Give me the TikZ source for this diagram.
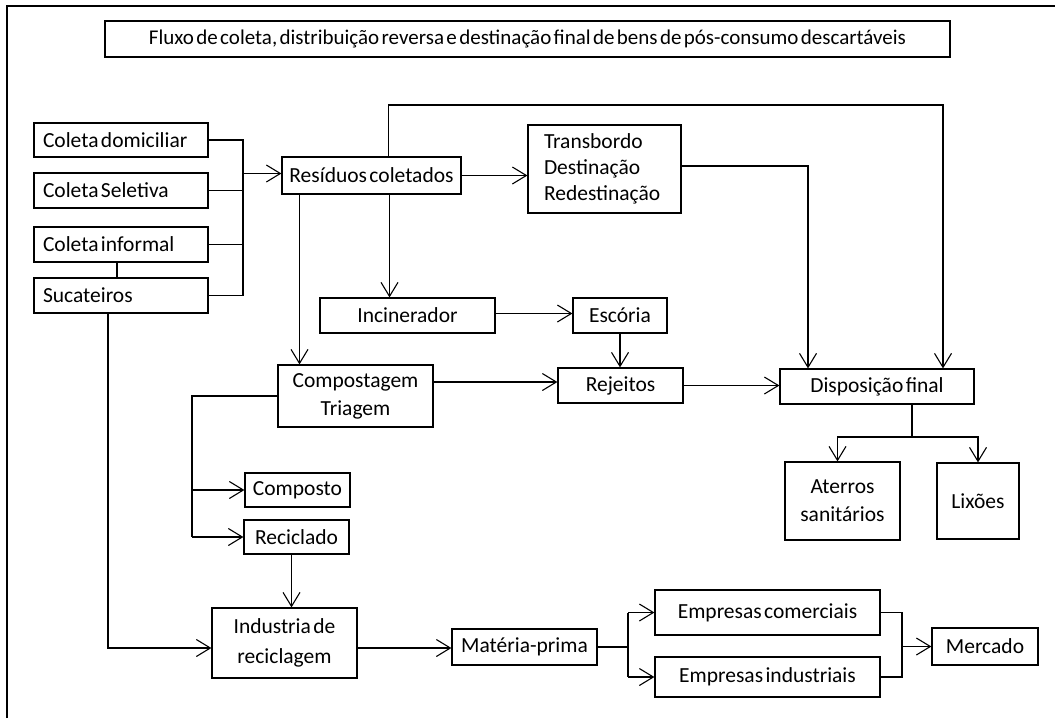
\documentclass[tikz,border=0pt]{standalone}
\usepackage{fontspec}
\setmainfont{Carlito}[WordSpace=0.5]
\usetikzlibrary{arrows.meta}
\tikzset{
  box/.style={draw,line width=1.2pt,inner sep=0pt,align=center,font=\fontsize{21.5}{28}\selectfont},
  lbox/.style={align=flush left,inner xsep=9pt},
  arr/.style={-{Straight Barb[length=14pt,width=17pt,line width=1.1pt]}},
  ln/.style={line width=1.2pt},
}
\newcommand\mybox[7][]{\node[box,minimum width={(#5-#3)*1pt},minimum height={(#6-#4)*1pt},#1] (#2) at ({(#3+#5)/2},{(#4+#6)/2}) {#7};}
\begin{document}
\begin{tikzpicture}[x=1pt,y=-1pt]
\useasboundingbox (0,0) rectangle (1055,718);
\draw[line width=1.6pt] (7,718) -- (7,6) -- (1055,6);
\mybox[font=\fontsize{21}{24}\selectfont]{title}{105}{21}{950}{57}{Fluxo de coleta, distribuição reversa e destinação final de bens de pós-consumo descartáveis}
\mybox[lbox,text width=156pt]{cd}{34}{123}{208}{157}{Coleta domiciliar}
\mybox[lbox,text width=156pt]{cs}{34}{173}{208}{208}{Coleta Seletiva}
\mybox[lbox,text width=156pt]{ci}{34}{227}{208}{262}{Coleta informal}
\mybox[lbox,text width=156pt]{suc}{34}{278}{208}{313}{Sucateiros}
\mybox{res}{282}{157}{461}{194}{Resíduos coletados}
\mybox[lbox,inner xsep=16pt,text width=121pt,font=\fontsize{21.5}{26}\selectfont]{tr}{528}{125}{681}{213}{Transbordo\\Destinação\\Redestinação}
\mybox{inc}{320}{298}{495}{333}{Incinerador}
\mybox{esc}{573}{298}{667}{333}{Escória}
\mybox{comp}{278}{365}{433}{427}{Compostagem\\Triagem}
\mybox{rej}{558}{368}{683}{403}{Rejeitos}
\mybox{disp}{780}{369}{974}{404}{Disposição final}
\mybox{ater}{785}{462}{900}{540}{Aterros\\sanitários}
\mybox{lix}{937}{463}{1019}{539}{Lixões}
\mybox{cmp}{245}{473}{350}{507}{Composto}
\mybox{rec}{244}{520}{349}{554}{Reciclado}
\mybox[font=\fontsize{21.5}{30}\selectfont]{ind}{212}{608}{357}{678}{Industria de\\reciclagem}
\mybox{mp}{452}{629}{597}{665}{Matéria-prima}
\mybox{ec}{655}{590}{880}{635}{Empresas comerciais}
\mybox{ei}{655}{657}{880}{697}{Empresas industriais}
\mybox{merc}{932}{628}{1038}{665}{Mercado}
% junction coordinates
\coordinate (bx) at (243,0);
\coordinate (topy) at (0,105);
\coordinate (dsplit) at (0,437);
\coordinate (cl) at (192,0);
\coordinate (mb) at (628,0);
\coordinate (rb) at (902,0);
\begin{scope}[ln]
\draw (cd.east) -- (cd.east -| bx) -- (suc.east -| bx) -- (suc.east);
\draw (cs.east) -- (cs.east -| bx);
\draw (ci.east) -- (ci.east -| bx);
\draw[arr] ([yshift=2pt]res.west -| bx) -- ([yshift=2pt]res.west);
\draw ([xshift=-4pt]ci.south) -- ([xshift=-4pt]suc.north);
\draw[arr] ([xshift=-13pt]suc.south) |- ([yshift=-5pt]ind.west);
\draw[arr] ([xshift=17pt]res.north) -- ([xshift=17pt]res.north |- topy) -| ([xshift=66pt]disp.north);
\draw[arr] (res.east) -- (res.east -| tr.west);
\draw[arr] ([yshift=3pt]tr.east) -| ([xshift=-69pt]disp.north);
\draw[arr] ([xshift=18pt]res.south) -- ([xshift=18pt]res.south |- inc.north);
\draw[arr] ([xshift=-72pt]res.south) -- ([xshift=-72pt]res.south |- comp.north);
\draw[arr] ([yshift=2pt]inc.east) -- ([yshift=2pt]esc.west);
\draw[arr] (esc.south) -- (esc.south |- rej.north);
\draw[arr] ([yshift=14pt]comp.east) -- ([yshift=14pt]comp.east -| rej.west);
\draw[arr] (rej.east) -- (rej.east -| disp.west);
\draw ([xshift=35pt]disp.south) -- ([xshift=35pt]disp.south |- dsplit);
\draw[arr] ([xshift=35pt]disp.south |- dsplit) -| ([xshift=-5pt]ater.north);
\draw[arr] ([xshift=35pt]disp.south |- dsplit) -| (lix.north);
\draw (comp.west) -- (comp.west -| cl) -- (rec.west -| cl);
\draw[arr] (cmp.west -| cl) -- (cmp.west);
\draw[arr] (rec.west -| cl) -- (rec.west);
\draw[arr] ([xshift=-5pt]rec.south) -- ([xshift=-5pt]rec.south |- ind.north);
\draw[arr] ([yshift=-5pt]ind.east) -- ([yshift=-5pt]ind.east -| mp.west);
\draw (mp.east) -- (mp.east -| mb);
\draw (ec.west -| mb) -- (ei.west -| mb);
\draw[arr] (ec.west -| mb) -- (ec.west);
\draw[arr] (ei.west -| mb) -- (ei.west);
\draw (ec.east) -- (ec.east -| rb) -- (ei.east -| rb) -- (ei.east);
\draw[arr] (merc.west -| rb) -- (merc.west);
\end{scope}
\end{tikzpicture}
\end{document}
